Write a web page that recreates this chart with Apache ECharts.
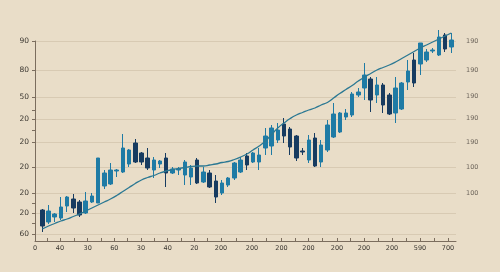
<!DOCTYPE html>
<html>
<head>
<meta charset="utf-8">
<script src="https://cdn.jsdelivr.net/npm/echarts@6/dist/echarts.min.js"></script>
<style>
html, body { margin: 0; padding: 0; background: #e9ddc8; }
#main { width: 500px; height: 272px; }
</style>
</head>
<body>
<div id="main"></div>
<script>
// candles, one per session
var days = [];
for (var i = 1; i <= 67; i++) { days.push('d' + i); }

var openVals  = [31,19,24,23,35,42,39,28,39,38, 55,57,70,69,77,98,88,83,71,77, 83,68,71,66,64,81,59,68,60,48, 56,63,69,85,79,79,93,95,101,117, 112,105,90,81,103,79,91,104,109,124, 126,146,153,162,146,156,146,128,132,159, 181,177,181,190,186,206,194];
var closeVals = [15,30,27,34,44,33,26,40,45,83, 68,71,71,93,91,79,79,73,81,80, 68,72,72,79,73,58,69,54,44,58, 63,78,81,76,88,86,105,113,111,105, 94,83,89,101,75,96,116,127,128,128, 147,149,166,141,156,136,127,153,158,170, 158,198,189,191,204,192,201];
var lowVals   = [9,17,19,21,29,28,24,27,38,38, 52,56,64,68,74,78,76,71,63,73, 54,67,66,56,56,57,58,53,38,46, 54,61,68,71,78,71,86,86,98,98, 86,80,86,78,74,74,89,103,108,121, 124,144,141,129,138,128,126,118,131,151, 154,166,179,188,185,189,188];
var highVals  = [32,36,28,44,45,47,41,49,48,83, 71,78,72,107,92,102,89,93,84,81, 88,74,74,81,76,83,74,71,66,61, 64,79,84,88,89,93,113,116,118,123, 114,106,93,106,108,101,121,138,129,132, 149,153,178,164,164,158,148,164,159,181, 188,198,192,193,211,208,208];

// trend line
var trendVals = [12,15,17.5,20,22,24.5,27,30,33,36, 39,42,45.5,49.5,53.5,57.5,61,63.5,65.5,68, 70,71.5,72.5,73.5,74.5,75,75,76,77,78.5, 79.5,81.5,84,87,91,95,100,106.5,113,118, 122.5,126,128.5,131,133,136,138.5,143,147.5,151.5, 155.5,160,164,167.5,171,173.5,176,179,182.5,186, 189.5,193,196,199,202,205,208];

// axis labels
var xLabelValues = [0,25,52.7,79.3,106,132.7,159.3,186,217,246.5,273.5,302,329,357,385,413];
var xLabelTexts  = ['0','40','30','60','30','40','20','200','200','200','200','200','200','200','590','700'];
var xMinorValues = [12.5,39,66,92.7,119.3,146,172.7,201.5,231.7,260,287.7,315.5,343,371,399];
var yGridValues  = [200,171,144,122,99,74,48,28,7];
var yLeftTexts   = ['90','80','50','20','20','20','20','20','60'];
var yMinorValues = [131,111,38,18];
var yRightValues = [200,171,145,123,99,74,48];
var yRightTexts  = ['190','190','190','190','190','100','100'];

var candleData = [];
for (var i = 0; i < days.length; i++) {
	candleData.push([openVals[i], closeVals[i], lowVals[i], highVals[i]]);
}

function lookup(vals, texts) {
	return function (v) {
		for (var k = 0; k < vals.length; k++) {
			if (Math.abs(vals[k] - v) < 0.01) return texts[k];
		}
		return '';
	};
}

var myChart = echarts.init(document.getElementById('main'));
var option = {
	backgroundColor: '#e9ddc8',
	animation: false,
	grid: [
		// visible axes
		{left: 35, right: 44, top: 41, bottom: 31, containLabel: false, outerBoundsMode: 'none'},
		// candles
		{left: 39.2, right: 45.6, top: 26, bottom: 31, containLabel: false, outerBoundsMode: 'none'}
	],
	xAxis: [
		{
			type: 'value', gridIndex: 0, min: 0, max: 421,
			axisLine: {show: true, lineStyle: {color: '#7b6d5e', width: 1}},
			axisTick: {show: true, inside: true, length: 3, customValues: xLabelValues.concat(xMinorValues), lineStyle: {color: '#7b6d5e'}},
			axisLabel: {
				customValues: xLabelValues, margin: 4,
				fontSize: 6.5, color: '#3a3630', fontFamily: 'DejaVu Sans',
				formatter: lookup(xLabelValues, xLabelTexts)
			},
			splitLine: {show: false}
		},
		{
			type: 'category', gridIndex: 1, data: days, boundaryGap: true,
			axisLine: {show: false}, axisTick: {show: false}, axisLabel: {show: false}, splitLine: {show: false}
		}
	],
	yAxis: [
		{
			type: 'value', gridIndex: 0, min: 0, max: 200, position: 'left',
			axisLine: {show: true, lineStyle: {color: '#7b6d5e', width: 1}},
			axisTick: {show: true, length: 3, customValues: yGridValues.concat(yMinorValues), lineStyle: {color: '#7b6d5e'}},
			axisLabel: {
				customValues: yGridValues, margin: 6,
				fontSize: 7.5, color: '#3a3630', fontFamily: 'DejaVu Sans',
				formatter: lookup(yGridValues, yLeftTexts)
			},
			splitLine: {show: false}
		},
		{
			// right side labels, also draws the grid lines
			type: 'value', gridIndex: 0, min: 0, max: 200, position: 'right',
			axisLine: {show: false},
			axisTick: {show: false, customValues: yGridValues},
			axisLabel: {
				customValues: yRightValues, margin: 10,
				fontSize: 6.5, color: '#6e665c', fontFamily: 'DejaVu Sans',
				formatter: lookup(yRightValues, yRightTexts)
			},
			splitLine: {show: true, lineStyle: {color: '#d8cab3', width: 1}}
		},
		{
			type: 'value', gridIndex: 1, min: 0, max: 215,
			axisLine: {show: false}, axisTick: {show: false}, axisLabel: {show: false}, splitLine: {show: false}
		}
	],
	series: [
		{
			name: 'price',
			type: 'candlestick',
			xAxisIndex: 1,
			yAxisIndex: 2,
			barWidth: 4,
			itemStyle: {
				color: '#1f7ba5',
				color0: '#173b60',
				borderColor: '#1f7ba5',
				borderColor0: '#173b60',
				borderWidth: 1
			},
			data: candleData
		},
		{
			name: 'trend',
			type: 'line',
			xAxisIndex: 1,
			yAxisIndex: 2,
			smooth: true,
			showSymbol: false,
			z: 5,
			lineStyle: {color: '#2b7893', width: 1.3},
			data: trendVals
		}
	]
};
myChart.setOption(option, true);
</script>
</body>
</html>
